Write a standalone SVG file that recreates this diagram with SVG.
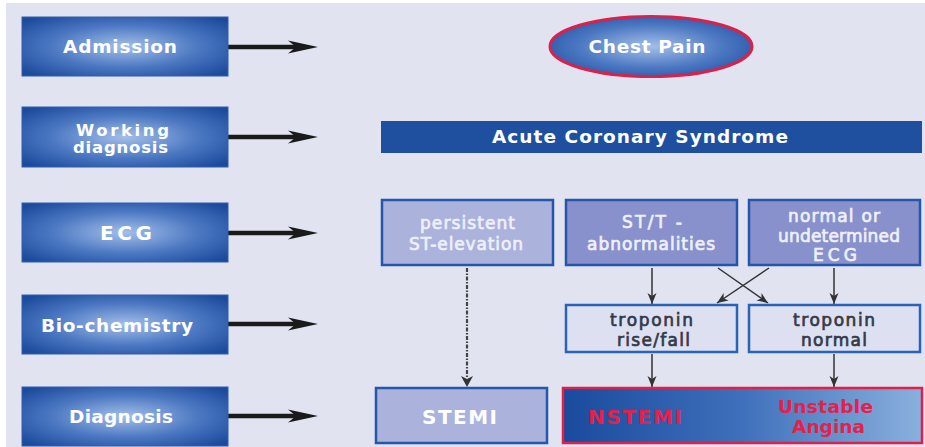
<svg xmlns="http://www.w3.org/2000/svg" width="925" height="447" viewBox="0 0 925 447">
<style>
.lbl{font-family:"DejaVu Sans",sans-serif;font-weight:bold;font-size:18.5px;fill:#ffffff;text-anchor:middle}
.red{font-family:"DejaVu Sans",sans-serif;font-weight:bold;font-size:18.5px;fill:#e3214b;text-anchor:middle}
.sm{font-size:16.5px}
.caps{font-size:20px}
.med{font-family:"DejaVu Sans",sans-serif;font-size:17px;text-anchor:middle;stroke-width:0.7}
.lt{fill:#eef0fa;stroke:#eef0fa}
.dk{fill:#333a48;stroke:#333a48}
.stage{fill:url(#rg);stroke:#2f5fae;stroke-width:1}
.pale{fill:#abb2dc;stroke:#2456ad;stroke-width:2.5}
.mid{fill:#8891cb;stroke:#2456ad;stroke-width:2.5}
.trop{fill:#dde0f1;stroke:#2a62b8;stroke-width:2.5}
.big{stroke:#1a1a1a;stroke-width:4.5;fill:none;marker-end:url(#bigHead)}
.thin{stroke:#333;stroke-width:1.5;fill:none;marker-end:url(#thinHead)}
</style>
<defs>
<radialGradient id="rg" cx="50%" cy="50%" r="65%">
<stop offset="0" stop-color="#a3bfe9"/>
<stop offset="0.55" stop-color="#4c78c2"/>
<stop offset="1" stop-color="#1c4b9d"/>
</radialGradient>
<linearGradient id="lg" x1="0" y1="0" x2="1" y2="0">
<stop offset="0" stop-color="#1a4a9c"/>
<stop offset="0.5" stop-color="#3f70bb"/>
<stop offset="1" stop-color="#8ab0dc"/>
</linearGradient>
<marker id="bigHead" markerUnits="userSpaceOnUse" markerWidth="34" markerHeight="16" viewBox="0 0 34 16" refX="10" refY="8" orient="auto">
<path d="M0,1.5 L30,8 L0,14.5 L8,8 z" fill="#1a1a1a"/>
</marker>
<marker id="thinHead" markerUnits="userSpaceOnUse" markerWidth="12" markerHeight="10" viewBox="0 0 12 10" refX="11" refY="5" orient="auto">
<path d="M0,0.5 L11,5 L0,9.5 L3,5 z" fill="#333"/>
</marker>
</defs>
<rect x="0" y="0" width="925" height="447" fill="#ffffff"/>
<rect x="6" y="3" width="919" height="444" fill="#e1e3f1"/>

<g id="connectors">
<line class="big" x1="228" y1="47" x2="298" y2="47"/>
<line class="big" x1="228" y1="137" x2="298" y2="137"/>
<line class="big" x1="228" y1="233" x2="298" y2="233"/>
<line class="big" x1="228" y1="324" x2="298" y2="324"/>
<line class="big" x1="228" y1="416" x2="298" y2="416"/>
<line x1="467" y1="268" x2="467" y2="378" stroke="#444" stroke-width="2.2" stroke-dasharray="4,1.5,1.5,1.5"/>
<path d="M461,376 L467,387 L473,376 L467,379 z" fill="#333"/>
<line class="thin" x1="652" y1="268" x2="652" y2="304"/>
<line class="thin" x1="834" y1="268" x2="834" y2="304"/>
<line class="thin" x1="718" y1="268" x2="768" y2="303"/>
<line class="thin" x1="769" y1="268" x2="717" y2="303"/>
<line class="thin" x1="652" y1="354" x2="652" y2="387"/>
<line class="thin" x1="834" y1="354" x2="834" y2="387"/>
</g>

<g id="admission">
<rect class="stage" x="22" y="17" width="206" height="59"/>
<text class="lbl" x="120" y="53" textLength="114">Admission</text>
</g>
<g id="working-diagnosis">
<rect class="stage" x="22" y="107" width="206" height="60"/>
<text class="lbl sm" x="122.5" y="135.5" textLength="93">Working</text>
<text class="lbl sm" x="120.5" y="153" textLength="95">diagnosis</text>
</g>
<g id="ecg">
<rect class="stage" x="22" y="203" width="206" height="59"/>
<text class="lbl caps" x="126" y="240" textLength="52">ECG</text>
</g>
<g id="biochemistry">
<rect class="stage" x="22" y="295" width="206" height="59"/>
<text class="lbl" x="117" y="331.5" textLength="152">Bio-chemistry</text>
</g>
<g id="diagnosis">
<rect class="stage" x="22" y="387" width="206" height="59"/>
<text class="lbl" x="121" y="423" textLength="104">Diagnosis</text>
</g>

<g id="chest-pain">
<ellipse cx="651" cy="46.5" rx="101" ry="30" fill="url(#rg)" stroke="#d9214b" stroke-width="3"/>
<text class="lbl" x="647" y="53" textLength="117">Chest Pain</text>
</g>
<g id="acs">
<rect x="381" y="121" width="541" height="32" fill="#1f4f9f"/>
<text class="lbl" x="640" y="143" textLength="296">Acute Coronary Syndrome</text>
</g>

<g id="persistent-st">
<rect class="pale" x="382" y="200" width="171" height="65"/>
<text class="med lt" x="467.5" y="229" textLength="95">persistent</text>
<text class="med lt" x="466" y="250" textLength="114">ST-elevation</text>
</g>
<g id="stt-abnormal">
<rect class="mid" x="566" y="200" width="171" height="65"/>
<text class="med lt" x="652" y="228" textLength="60">ST/T -</text>
<text class="med lt" x="651" y="250" textLength="128">abnormalities</text>
</g>
<g id="normal-ecg">
<rect class="mid" x="749" y="200" width="171" height="65"/>
<text class="med lt" x="834" y="222" textLength="92">normal or</text>
<text class="med lt" x="839" y="242" textLength="122">undetermined</text>
<text class="med lt" x="835" y="261" textLength="44" font-size="18">ECG</text>
</g>

<g id="troponin-rise">
<rect class="trop" x="566" y="305" width="171" height="47"/>
<text class="med dk" x="651.5" y="326" textLength="83">troponin</text>
<text class="med dk" x="653.5" y="346" textLength="73">rise/fall</text>
</g>
<g id="troponin-normal">
<rect class="trop" x="749" y="305" width="171" height="47"/>
<text class="med dk" x="834" y="326" textLength="82">troponin</text>
<text class="med dk" x="834" y="346" textLength="66">normal</text>
</g>

<g id="stemi">
<rect class="pale" x="376" y="388" width="171" height="55"/>
<text class="lbl caps" x="459.5" y="423.5" textLength="75" fill="#f0f2fb">STEMI</text>
</g>
<g id="nstemi-ua">
<rect x="563" y="388" width="359" height="55" fill="url(#lg)" stroke="#e0204a" stroke-width="2.5"/>
<text class="red caps" x="635" y="423.5" textLength="94">NSTEMI</text>
<text class="red" x="825.5" y="412.5" textLength="95">Unstable</text>
<text class="red" x="828.5" y="432.5" textLength="73">Angina</text>
</g>
</svg>
